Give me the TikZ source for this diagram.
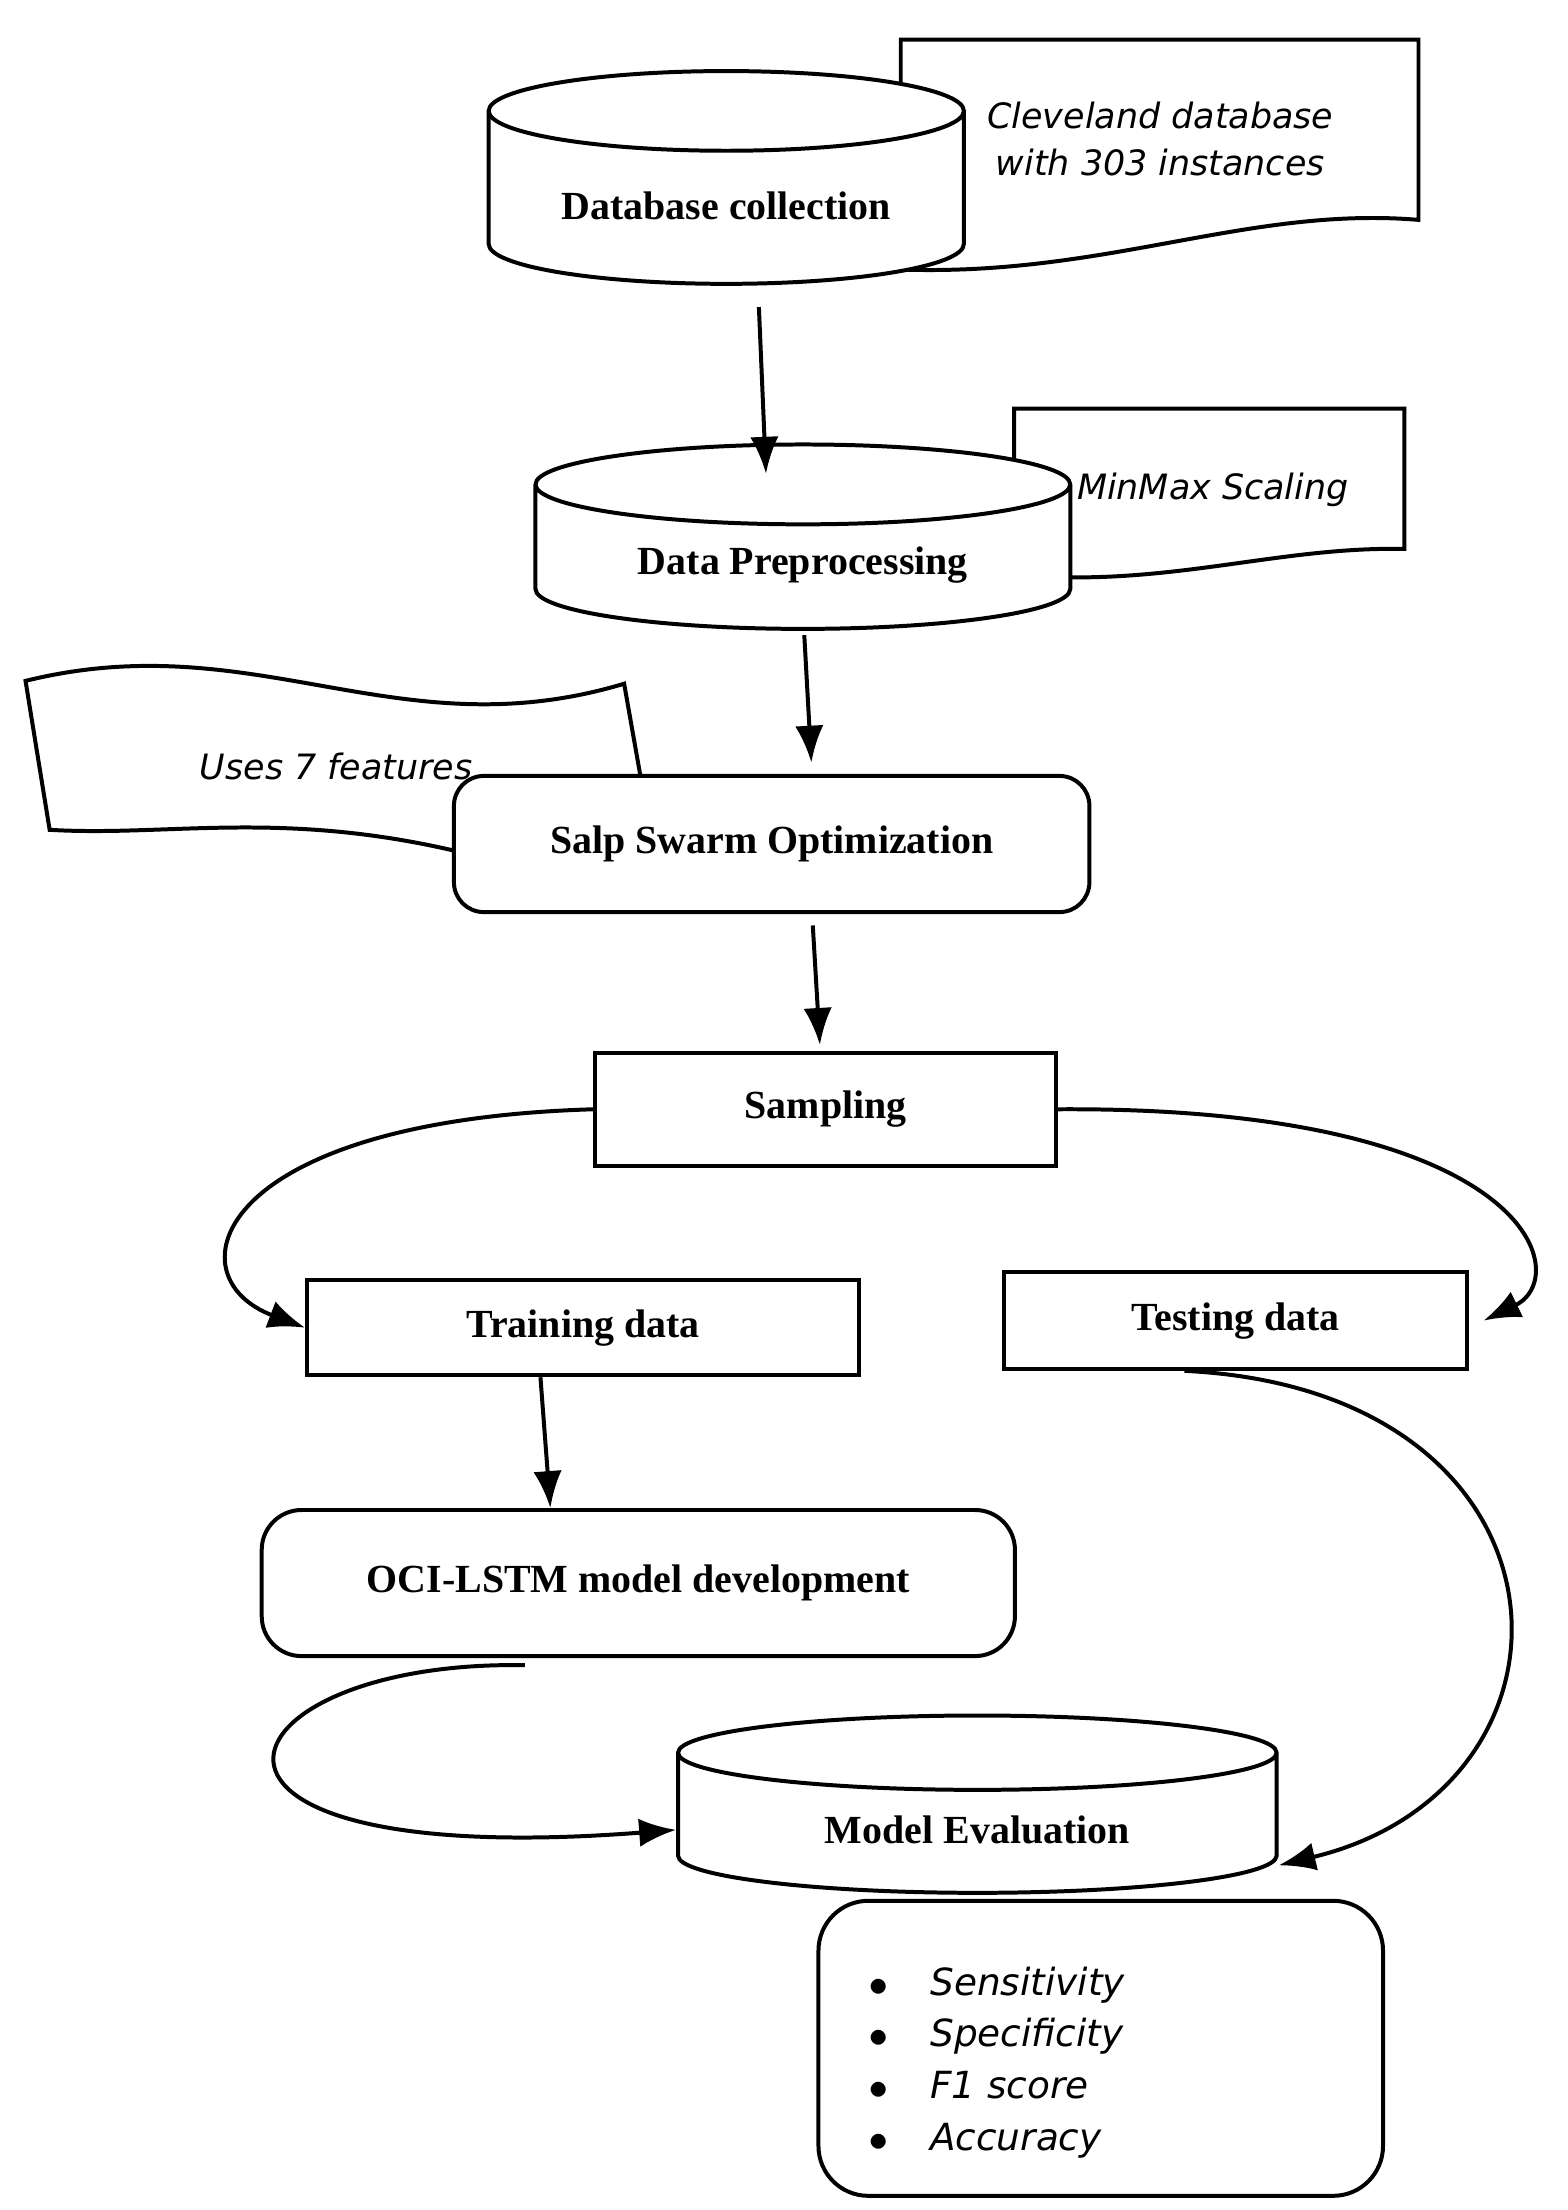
\documentclass[tikz,border=0pt]{standalone}
\usepackage{fontspec}
\setmainfont{Liberation Serif}
\newfontfamily\notefont{DejaVu Sans}
\usetikzlibrary{shapes.geometric,arrows.meta,positioning}
\tikzset{
  block/.style={draw,thick,fill=white,font=\bfseries\fontsize{8}{9}\selectfont},
  drum/.style={block,cylinder,shape border rotate=90,aspect=0.22},
  note/.style={font=\notefont\itshape\fontsize{7}{9.5}\selectfont,align=center},
  flow/.style={thick,-{Latex[length=2.6mm,width=2mm]}},
  paper/.style={draw,thick,fill=white}
}
\begin{document}
\begin{tikzpicture}
\useasboundingbox (0,0) rectangle (11.05,-15.58);
% notes behind the blocks
\draw[paper] (6.35,-0.28) -- (10.0,-0.28) -- (10.0,-1.55)
  .. controls (8.8,-1.45) and (7.8,-1.95) .. (6.35,-1.9) -- cycle;
\node[note] (cleveland) at (8.18,-0.98) {Cleveland database\\with 303 instances};
\draw[paper] (7.15,-2.88) -- (9.9,-2.88) -- (9.9,-3.87)
  .. controls (9.0,-3.85) and (8.2,-4.15) .. (7.15,-4.05) -- cycle;
\draw[paper] (0.18,-4.8) .. controls (1.8,-4.4) and (2.8,-5.3) .. (4.4,-4.82)
  -- (4.52,-5.5) -- (3.3,-6.02) .. controls (2.0,-5.7) and (1.2,-5.9) .. (0.35,-5.85) -- cycle;
\node[note] (seven) at (2.37,-5.4) {Uses 7 features};
% blocks
\node[drum,minimum width=3.35cm,minimum height=1.5cm] (collect) at (5.12,-1.45) {Database collection};
\node[drum,minimum width=3.77cm,minimum height=1.3cm] (prep) at (5.66,-3.98) {Data Preprocessing};
\node[note] (minmax) at (8.55,-3.45) {MinMax Scaling};
\node[block,rounded corners=6pt,minimum width=4.48cm,minimum height=0.96cm] (salp) at (5.44,-5.95) {Salp Swarm Optimization};
\node[block,minimum width=3.25cm,minimum height=0.8cm] (sampling) at (5.82,-7.82) {Sampling};
\node[block,minimum width=3.89cm,minimum height=0.67cm] (train) at (4.11,-9.36) {Training data};
\node[block,minimum width=3.27cm,minimum height=0.68cm] (test) at (8.71,-9.31) {Testing data};
\node[block,rounded corners=8pt,minimum width=5.31cm,minimum height=1.03cm] (oci) at (4.5,-11.16) {OCI-LSTM model development};
\node[block,rounded corners=10pt,minimum width=3.98cm,minimum height=2.08cm] (metrics) at (7.76,-14.44) {};
\node[drum,minimum width=4.22cm,minimum height=1.25cm] (eval) at (6.89,-12.9) {Model Evaluation};
\node[note,align=left,anchor=north west,font=\notefont\itshape\fontsize{7.5}{10.4}\selectfont] (list) at (6.0,-13.74)
  {$\bullet$\hspace{1.1em}Sensitivity\\ $\bullet$\hspace{1.1em}Specificity\\ $\bullet$\hspace{1.1em}F1 score\\ $\bullet$\hspace{1.1em}Accuracy};
% connectors
\draw[flow] ([xshift=0.23cm,yshift=-0.15cm]collect.south) -- ([xshift=0.28cm,yshift=-0.22cm]collect.south |- prep.north);
\draw[flow] ([xshift=0.01cm,yshift=-0.03cm]prep.south) -- ([xshift=0.28cm,yshift=0.08cm]salp.north);
\draw[flow] ([xshift=0.29cm,yshift=-0.08cm]salp.south) -- ([xshift=-0.04cm,yshift=0.04cm]sampling.north);
\draw[flow] (sampling.west) .. controls (1.5,-7.9) and (1.2,-9.0) .. (train.west);
\draw[flow] (sampling.east) .. controls (10.8,-7.8) and (11.1,-9.0) .. ([xshift=0.1cm]test.east);
\draw[flow] ([xshift=-0.3cm]train.south) -- ([xshift=-0.62cm]oci.north);
\draw[flow] ([xshift=-0.8cm,yshift=-0.05cm]oci.south) .. controls (1.5,-11.7) and (0.9,-13.2) .. (eval.west);
\draw[flow] ([xshift=-0.36cm]test.south) .. controls (11.2,-9.8) and (11.3,-12.6) .. ([yshift=-0.25cm]eval.east);
\end{tikzpicture}
\end{document}
